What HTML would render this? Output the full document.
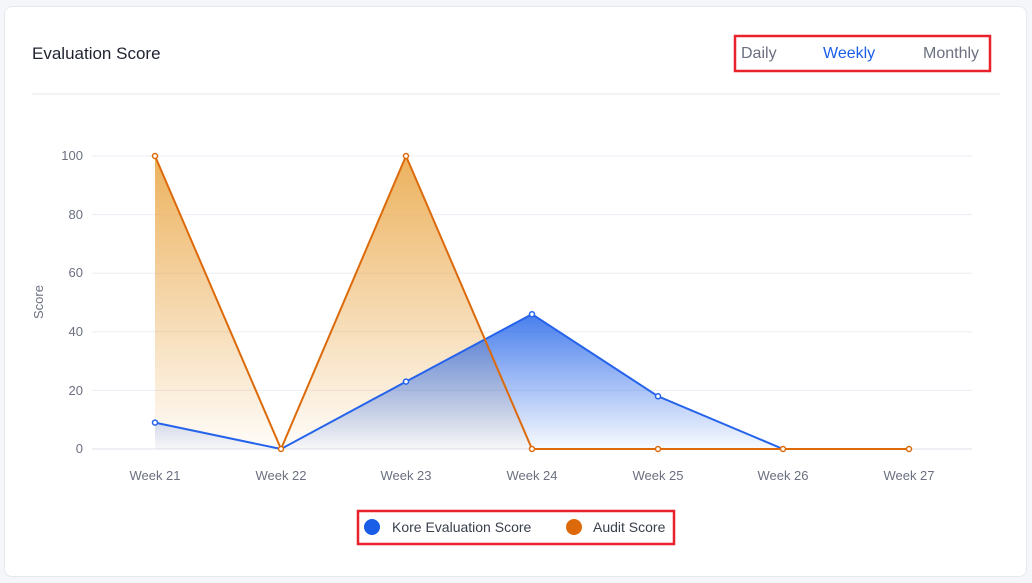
<!DOCTYPE html>
<html><head><meta charset="utf-8"><style>
html,body{margin:0;padding:0;background:#f5f6f9;}
body{width:1032px;height:583px;position:relative;overflow:hidden;font-family:"Liberation Sans",sans-serif;}
.card{position:absolute;left:4px;top:6px;width:1023px;height:571px;background:#fff;border:1px solid #e6e8ee;border-radius:8px;box-sizing:border-box;}
</style></head><body>
<div class="card"></div>
<svg width="1032" height="583" style="position:absolute;left:0;top:0" font-family="Liberation Sans, sans-serif">
<defs>
<linearGradient id="og" x1="0" y1="156" x2="0" y2="449" gradientUnits="userSpaceOnUse">
<stop offset="0" stop-color="#e9a441" stop-opacity="0.85"/><stop offset="1" stop-color="#e9a441" stop-opacity="0.03"/></linearGradient>
<linearGradient id="bg" x1="0" y1="314" x2="0" y2="449" gradientUnits="userSpaceOnUse">
<stop offset="0" stop-color="#1a5ee8" stop-opacity="0.8"/><stop offset="1" stop-color="#1a5ee8" stop-opacity="0.03"/></linearGradient>
</defs>
<text x="32" y="59" font-size="17" fill="#1f2330">Evaluation Score</text>
<rect x="735" y="36" width="255" height="35" fill="none" stroke="#e8212b" stroke-width="2.5"/>
<text x="741" y="58" font-size="16" fill="#6b7080">Daily</text>
<text x="823" y="58" font-size="16" fill="#1a5ee8">Weekly</text>
<text x="923" y="58" font-size="16" fill="#6b7080">Monthly</text>
<line x1="32" y1="94" x2="1000" y2="94" stroke="#e6e8ee"/>
<g stroke="#eceef4" stroke-width="1">
<line x1="92" y1="156" x2="972" y2="156"/><line x1="92" y1="214.6" x2="972" y2="214.6"/><line x1="92" y1="273.2" x2="972" y2="273.2"/><line x1="92" y1="331.8" x2="972" y2="331.8"/><line x1="92" y1="390.4" x2="972" y2="390.4"/></g>
<line x1="92" y1="449" x2="972" y2="449" stroke="#dfe2ea"/>
<g font-size="13" fill="#6b7080" text-anchor="end">
<text x="83" y="160">100</text><text x="83" y="219">80</text><text x="83" y="277">60</text><text x="83" y="336">40</text><text x="83" y="395">20</text><text x="83" y="453">0</text></g>
<text transform="translate(43,302) rotate(-90)" font-size="13" fill="#6b7080" text-anchor="middle">Score</text>
<g font-size="13" fill="#6b7080" text-anchor="middle">
<text x="155" y="480">Week 21</text><text x="281" y="480">Week 22</text><text x="406" y="480">Week 23</text><text x="532" y="480">Week 24</text><text x="658" y="480">Week 25</text><text x="783" y="480">Week 26</text><text x="909" y="480">Week 27</text></g>
<polygon points="155,449 155,156 281,449 406,156 532,449" fill="url(#og)"/>
<polygon points="155,449 155,422.6 281,449 406,381.6 532,314.2 658,396.3 783,449" fill="url(#bg)"/>
<polyline points="155,422.6 281,449 406,381.6 532,314.2 658,396.3 783,449 909,449" fill="none" stroke="#2563eb" stroke-width="2"/>
<polyline points="155,156 281,449 406,156 532,449 658,449 783,449 909,449" fill="none" stroke="#dd6a0a" stroke-width="2"/>
<g fill="#fff" stroke="#2563eb" stroke-width="1.5">
<circle cx="155" cy="422.6" r="2.5"/><circle cx="406" cy="381.6" r="2.5"/><circle cx="532" cy="314.2" r="2.5"/><circle cx="658" cy="396.3" r="2.5"/></g>
<g fill="#fff" stroke="#dd6a0a" stroke-width="1.5">
<circle cx="155" cy="156" r="2.5"/><circle cx="281" cy="449" r="2.5"/><circle cx="406" cy="156" r="2.5"/><circle cx="532" cy="449" r="2.5"/><circle cx="658" cy="449" r="2.5"/><circle cx="783" cy="449" r="2.5"/><circle cx="909" cy="449" r="2.5"/></g>
<rect x="358" y="511" width="316" height="33" fill="none" stroke="#e8212b" stroke-width="2.5"/>
<circle cx="372" cy="527" r="8" fill="#1a5ee8"/>
<text x="392" y="532" font-size="14" fill="#3a3f4d">Kore Evaluation Score</text>
<circle cx="574" cy="527" r="8" fill="#dd6a0a"/>
<text x="593" y="532" font-size="14" fill="#3a3f4d">Audit Score</text>
</svg>
</body></html>
